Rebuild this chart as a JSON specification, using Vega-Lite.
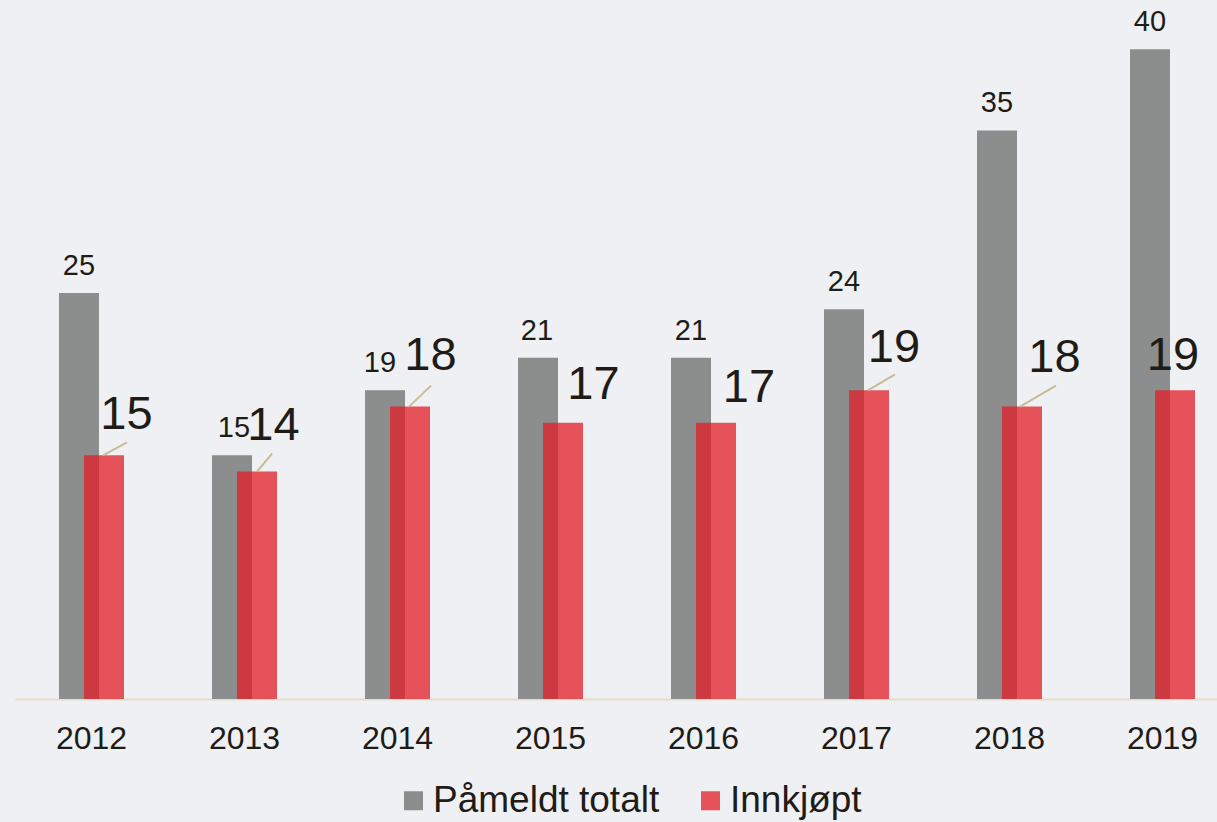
{
  "$schema": "https://vega.github.io/schema/vega-lite/v6.json",
  "width": 1202,
  "height": 699,
  "autosize": {"type": "none"},
  "padding": {"left": 15, "top": 0, "right": 0, "bottom": 123},
  "background": "#eef0f3",
  "config": {
    "view": {"stroke": null},
    "font": "Liberation Sans",
    "axis": {
      "title": null,
      "grid": false,
      "ticks": false,
      "tickSize": 0,
      "domainColor": "#e4dec8",
      "domainWidth": 2,
      "labelFont": "Liberation Sans",
      "labelFontSize": 32,
      "labelColor": "#1f1c17",
      "labelPadding": 24.7,
      "labelAngle": 0
    }
  },
  "data": {
    "values": [
      {"year": 2012, "series": "Påmeldt totalt", "value": 25},
      {"year": 2013, "series": "Påmeldt totalt", "value": 15},
      {"year": 2014, "series": "Påmeldt totalt", "value": 19},
      {"year": 2015, "series": "Påmeldt totalt", "value": 21},
      {"year": 2016, "series": "Påmeldt totalt", "value": 21},
      {"year": 2017, "series": "Påmeldt totalt", "value": 24},
      {"year": 2018, "series": "Påmeldt totalt", "value": 35},
      {"year": 2019, "series": "Påmeldt totalt", "value": 40},
      {"year": 2012, "series": "Innkjøpt", "value": 15},
      {"year": 2013, "series": "Innkjøpt", "value": 14},
      {"year": 2014, "series": "Innkjøpt", "value": 18},
      {"year": 2015, "series": "Innkjøpt", "value": 17},
      {"year": 2016, "series": "Innkjøpt", "value": 17},
      {"year": 2017, "series": "Innkjøpt", "value": 19},
      {"year": 2018, "series": "Innkjøpt", "value": 18},
      {"year": 2019, "series": "Innkjøpt", "value": 19}
    ]
  },
  "encoding": {
    "x": {
      "field": "year",
      "type": "ordinal",
      "scale": {"type": "band", "paddingInner": 0.5, "paddingOuter": 0.178105, "align": 0.7018, "round": false},
      "axis": {"orient": "bottom"}
    },
    "y": {
      "field": "value",
      "type": "quantitative",
      "scale": {"domain": [0, 43.03], "nice": false, "zero": true},
      "axis": null
    }
  },
  "layer": [
    {
      "transform": [{"filter": "datum.series === 'Påmeldt totalt'"}],
      "mark": {"type": "bar", "width": 40, "xOffset": -12.5},
      "encoding": {
        "color": {
          "field": "series",
          "type": "nominal",
          "sort": null,
          "scale": {"domain": ["Påmeldt totalt", "Innkjøpt"], "range": ["#8c8d8d", "rgba(225,29,39,0.75)"]},
          "legend": {
            "orient": "none",
            "legendX": 380,
            "legendY": 782,
            "direction": "horizontal",
            "title": null,
            "symbolType": "square",
            "symbolSize": 361,
            "symbolStrokeWidth": 0,
            "labelFont": "Liberation Sans",
            "labelFontSize": 37,
            "labelColor": "#1f1c17",
            "labelOffset": 1,
            "labelLimit": 0,
            "columnPadding": 32,
            "padding": 0
          }
        }
      }
    },
    {
      "transform": [{"filter": "datum.series === 'Innkjøpt'"}],
      "mark": {"type": "bar", "width": 40, "xOffset": 12.5},
      "encoding": {
        "color": {"field": "series", "type": "nominal", "sort": null}
      }
    },
    {
      "transform": [
        {"filter": "datum.series === 'Innkjøpt'"},
        {"filter": {"field": "year", "oneOf": [2012, 2013, 2014, 2017, 2018]}}
      ],
      "mark": {
        "type": "rule",
        "color": "#c8bc95",
        "strokeWidth": 2,
        "xOffset": {"expr": "12.5 + [-1, 0, -1, 0, 0, -1, -2, 0][datum.year - 2012]"},
        "x2Offset": {"expr": "12.5 + [23, 15, 21, 0, 0, 26, 34, 0][datum.year - 2012]"},
        "y2Offset": {"expr": "[-13, -18, -21, 0, 0, -16, -21, 0][datum.year - 2012]"}
      },
      "encoding": {
        "x2": {"field": "year"},
        "y2": {"field": "value"}
      }
    },
    {
      "transform": [{"filter": "datum.series === 'Påmeldt totalt'"}],
      "mark": {
        "type": "text",
        "font": "Liberation Sans",
        "fontSize": 29,
        "color": "#1f1c17",
        "baseline": "alphabetic",
        "align": "center",
        "xOffset": -12.5,
        "dy": -18,
        "dx": {"expr": "[0, 2, -5, -1, 0, 0, 0, 0][datum.year - 2012]"}
      },
      "encoding": {"text": {"field": "value", "type": "quantitative"}}
    },
    {
      "transform": [{"filter": "datum.series === 'Innkjøpt'"}],
      "mark": {
        "type": "text",
        "font": "Liberation Sans",
        "fontSize": 47,
        "color": "#1f1c17",
        "baseline": "alphabetic",
        "align": "center",
        "xOffset": 12.5,
        "dx": {"expr": "[22.5, 16.5, 20.5, 30.5, 33, 25, 32.5, -2][datum.year - 2012]"},
        "dy": {"expr": "[-26, -32, -37, -24, -21, -28, -35, -20][datum.year - 2012]"}
      },
      "encoding": {"text": {"field": "value", "type": "quantitative"}}
    }
  ]
}
